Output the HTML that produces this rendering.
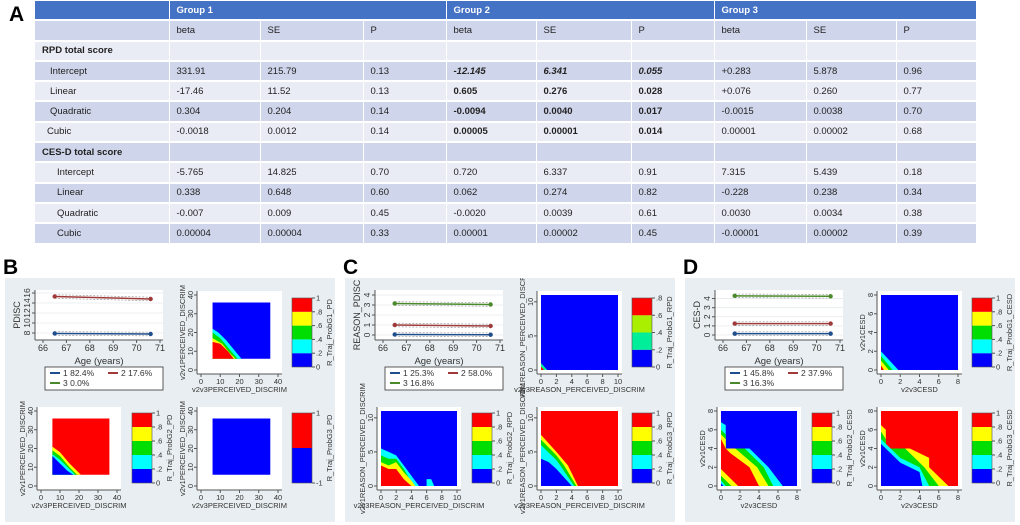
<!DOCTYPE html>
<html><head><meta charset="utf-8">
<style>
body{margin:0;width:1020px;height:525px;background:#fff;position:relative;overflow:hidden;font-family:"Liberation Sans",sans-serif}
.lab{position:absolute;font-weight:bold;font-size:21px;color:#000}
table{position:absolute;left:35px;top:1px;border-collapse:collapse;table-layout:fixed;font-size:9.5px;color:#222}
td{height:18.3px;padding:0 0 0 7px;border:1px solid #fff;border-width:0 1px 2px 0;white-space:nowrap}
tr.h td{background:#4472c4;color:#fff;font-weight:bold}
tr.d td{background:#cfd5ea}
tr.l td{background:#e9ebf5}
.b{font-weight:bold}.bi{font-weight:bold;font-style:italic}
svg{position:absolute}
</style></head><body>
<div class="lab" style="left:9px;top:3px">A</div>
<table>
<colgroup><col style="width:134px"><col style="width:91px"><col style="width:103px"><col style="width:83px"><col style="width:90px"><col style="width:95px"><col style="width:83px"><col style="width:92px"><col style="width:90px"><col style="width:80px"></colgroup>
<tr class="h"><td></td><td colspan="3">Group 1</td><td colspan="3">Group 2</td><td colspan="3">Group 3</td></tr>
<tr class="d"><td></td><td>beta</td><td>SE</td><td>P</td><td>beta</td><td>SE</td><td>P</td><td>beta</td><td>SE</td><td>P</td></tr>
<tr class="l"><td class="b">RPD total score</td><td></td><td></td><td></td><td></td><td></td><td></td><td></td><td></td><td></td></tr>
<tr class="d"><td style="padding-left:15px">Intercept</td><td>331.91</td><td>215.79</td><td>0.13</td><td class="bi">-12.145</td><td class="bi">6.341</td><td class="bi">0.055</td><td>+0.283</td><td>5.878</td><td>0.96</td></tr>
<tr class="l"><td style="padding-left:15px">Linear</td><td>-17.46</td><td>11.52</td><td>0.13</td><td class="b">0.605</td><td class="b">0.276</td><td class="b">0.028</td><td>+0.076</td><td>0.260</td><td>0.77</td></tr>
<tr class="d"><td style="padding-left:15px">Quadratic</td><td>0.304</td><td>0.204</td><td>0.14</td><td class="b">-0.0094</td><td class="b">0.0040</td><td class="b">0.017</td><td>-0.0015</td><td>0.0038</td><td>0.70</td></tr>
<tr class="l"><td style="padding-left:12px">Cubic</td><td>-0.0018</td><td>0.0012</td><td>0.14</td><td class="b">0.00005</td><td class="b">0.00001</td><td class="b">0.014</td><td>0.00001</td><td>0.00002</td><td>0.68</td></tr>
<tr class="d"><td class="b">CES-D total score</td><td></td><td></td><td></td><td></td><td></td><td></td><td></td><td></td><td></td></tr>
<tr class="l"><td style="padding-left:22px">Intercept</td><td>-5.765</td><td>14.825</td><td>0.70</td><td>0.720</td><td>6.337</td><td>0.91</td><td>7.315</td><td>5.439</td><td>0.18</td></tr>
<tr class="d"><td style="padding-left:22px">Linear</td><td>0.338</td><td>0.648</td><td>0.60</td><td>0.062</td><td>0.274</td><td>0.82</td><td>-0.228</td><td>0.238</td><td>0.34</td></tr>
<tr class="l"><td style="padding-left:22px">Quadratic</td><td>-0.007</td><td>0.009</td><td>0.45</td><td>-0.0020</td><td>0.0039</td><td>0.61</td><td>0.0030</td><td>0.0034</td><td>0.38</td></tr>
<tr class="d"><td style="padding-left:22px">Cubic</td><td>0.00004</td><td>0.00004</td><td>0.33</td><td>0.00001</td><td>0.00002</td><td>0.45</td><td>-0.00001</td><td>0.00002</td><td>0.39</td></tr>
</table>
<div class="lab" style="left:3px;top:256px">B</div>
<div class="lab" style="left:343px;top:256px">C</div>
<div class="lab" style="left:683px;top:256px">D</div>
<script>
// ===== data =====
const ageTicks=[66,67,68,69,70,71];
const ageEnds=[66.5,70.6];
const bYTicks=[8,10,12,14,16];
const bLine1=[7.9,7.8], bLine2=[15.3,14.8];
const cYTicks=[0,1,2,3,4];
const cLine1=[0.05,0.03], cLine2=[1.0,0.9], cLine3=[3.15,3.05];
const dYTicks=[0,1,2,3,4];
const dLine1=[0.15,0.15], dLine2=[1.25,1.25], dLine3=[4.3,4.25];
const bLegend=["1  82.4%","2  17.6%","3  0.0%"];
const cLegend=["1  25.3%","2  58.0%","3  16.8%"];
const dLegend=["1  45.8%","2  37.9%","3  16.3%"];
const cbTickLabels=["0",".2",".4",".6",".8","1"];
const Y='#ffff00',G='#00dd00',C='#00ffff';
const bTR=[['#0000ff',[[6,6],[6,36],[36,36],[36,6]]],[C,[[6,6],[6,22],[9,20],[13,16],[17,11],[21,6]]],[G,[[6,6],[6,20],[10,17],[14,12],[19,6]]],[Y,[[6,6],[6,17],[11,14],[15,9],[18,6]]],['#ff0000',[[6,6],[6,15],[10,14],[14,10],[17,6]]]];
const bBL=[['#ff0000',[[6,6],[6,36],[36,36],[36,6]]],[Y,[[6,6],[6,21],[10,18],[15,12],[21,6]]],[G,[[6,6],[6,19],[10,16],[15,10],[19,6]]],[C,[[6,6],[6,17],[10,14],[14,10],[18,6]]],['#0000ff',[[6,6],[6,16],[9,13],[14,8],[17,6]]]];
const bBR=[['#0000ff',[[6,6],[6,36],[36,36],[36,6]]]];
const cTR=[['#0000ff',[[0,0],[0,11],[10,11],[10,0]]],['#00ff99',[[0,0],[0,1],[0.8,0]]],['#ff0000',[[0,0],[0,0.5],[0.4,0]]]];
const cBL=[['#0000ff',[[0,0],[0,11],[10,11],[10,0]]],[C,[[0,0],[0,5.5],[1,5],[2,4.5],[3,3],[4,1.5],[5,0]]],[G,[[0,0],[0,4.5],[1,4],[2,4],[3,2.5],[4.3,0]]],[Y,[[0,0],[0,3.5],[1,3],[2,3.5],[3,2],[4,0.8],[4.5,0]]],['#ff0000',[[0,0],[0,3],[1,2.5],[2,2.5],[3,1],[4,0]]],[C,[[6,0],[6,1],[6.6,1],[7,0]]]];
const cBR=[['#ff0000',[[0,0],[0,11],[10,11],[10,0]]],[Y,[[0,0],[0,7.5],[2,5],[3.5,3],[4.8,0]]],[G,[[0,0],[0,6.8],[2,4.5],[3,3],[4.6,0]]],[C,[[0,0],[0,6],[2,3.8],[2.5,3],[4.3,0]]],['#0000ff',[[0,0],[0,4],[1,3.5],[2,2.5],[4,0]]]];
const dTR=[['#0000ff',[[0,0],[0,8],[8,8],[8,0]]],[C,[[0,0],[0,2],[1.8,0]]],[G,[[0,0],[0,1.5],[1.2,0]]],[Y,[[0,0],[0,1],[0.8,0]]],['#ff0000',[[0,0],[0,0.5],[0.3,0]]]];
const dBL=[['#0000ff',[[0,0],[0,8],[8,8],[8,0]]],[C,[[0,0],[0,6.8],[0.5,6.5],[0.5,4],[3,4],[5,2],[6.5,0]]],[G,[[0,0],[0,6],[0.5,5.5],[0.5,4],[2.5,4],[4.5,2],[5.5,0]]],[Y,[[0,0],[0,5.5],[0.5,5],[0.5,4],[1.5,4],[3.8,2],[5,0]]],['#ff0000',[[0,0],[0,5],[0.5,4],[1,3.5],[3,2],[4,0]]],[Y,[[0,0],[0,1.8],[1.8,0]]],[G,[[0,0],[0,1.1],[1.1,0]]],[C,[[0,0],[0,0.6],[0.5,0]]],['#0000ff',[[0,0],[0,0.3],[0.25,0]]]];
const dBR=[['#ff0000',[[0,0],[0,8],[8,8],[8,0]]],[Y,[[0,0],[0,6.5],[0.5,6],[0.5,4],[3,4],[5,3],[5,2],[7,0]]],[G,[[0,0],[0,5.8],[0.5,5],[0.5,4],[2.5,4],[4.5,2],[6,0]]],[C,[[0,0],[0,5],[2,3],[4,2],[5,0]]],['#0000ff',[[0,0],[0,4.5],[2,2.5],[4,1.5],[4.3,0]]]];

const NS='http://www.w3.org/2000/svg';
function el(p,t,a){const e=document.createElementNS(NS,t);for(const k in a)e.setAttribute(k,a[k]);p.appendChild(e);return e;}
function txt(p,x,y,s,sz,anchor,rot){const t=el(p,'text',{x:x,y:y,'font-size':sz,'text-anchor':anchor||'middle',fill:'#333','font-family':'Liberation Sans, sans-serif'});if(rot)t.setAttribute('transform','rotate(-90 '+x+' '+y+')');t.textContent=s;return t;}

function linePlot(svg,cfg){
  const g=el(svg,'g',{});
  
  
  const X0=30,X1=158,Yt=12,Yb=62;
  const xs=v=>38+(v-66)*23.4;
  const ys=v=>cfg.y0px-(v-cfg.yMin)*(cfg.y0px-cfg.yTopPx)/(cfg.yMax-cfg.yMin);
  el(g,'rect',{x:X0,y:Yt,width:X1-X0,height:Yb-Yt,fill:'#fff'});
  cfg.yTicks.forEach(v=>{el(g,'line',{x1:X0,x2:X1,y1:ys(v),y2:ys(v),stroke:'#e4eaee','stroke-width':0.8});
    el(g,'line',{x1:X0-3,x2:X0,y1:ys(v),y2:ys(v),stroke:'#555'});
    txt(g,X0-5,ys(v),String(v),8.5,'middle',true);});
  el(g,'line',{x1:X0,x2:X0,y1:Yt,y2:Yb,stroke:'#555'});
  el(g,'line',{x1:X0,x2:X1,y1:Yb,y2:Yb,stroke:'#555'});
  ageTicks.forEach(v=>{el(g,'line',{x1:xs(v),x2:xs(v),y1:Yb,y2:Yb+3,stroke:'#555'});txt(g,xs(v),Yb+11,String(v),9);});
  txt(g,(X0+X1)/2,Yb+24,'Age (years)',9.5);
  txt(g,X0-15,37,cfg.ylab,9,'middle',true);
  const cols=['#1f4e8c','#a03a3a','#4a8a2a'];
  cfg.lines.forEach((L,i)=>{if(!L)return;
    const p=ageEnds.map((a,j)=>[xs(a),ys(L[j])]);
    [-1,1].forEach(s=>{el(g,'line',{x1:p[0][0],y1:p[0][1]+s*1.8,x2:p[1][0],y2:p[1][1]+s*1.8,stroke:'#999','stroke-dasharray':'2,1.5','stroke-width':0.7});});
    const ln=el(g,'line',{x1:p[0][0],y1:p[0][1],x2:p[1][0],y2:p[1][1],stroke:cols[i],'stroke-width':1.5});
    
    
    p.forEach(q=>el(g,'circle',{cx:q[0],cy:q[1],r:2.2,fill:cols[i]}));
  });
  const lg=el(svg,'g',{});
  
  
  el(lg,'rect',{x:40,y:89,width:118,height:23,fill:'#fff',stroke:'#333','stroke-width':0.8});
  const pos=[[45,98],[103,98],[45,108]];
  cfg.legend.forEach((s,i)=>{el(lg,'line',{x1:pos[i][0],x2:pos[i][0]+10,y1:pos[i][1]-3,y2:pos[i][1]-3,stroke:cols[i],'stroke-width':2});txt(lg,pos[i][0]+13,pos[i][1],s,8.5,'start');});
}
function heat(svg,ax,layers,xr,yr,xt,yt,xlab,ylab,cbcolors,cbLabs,cblab,cbx,cby){
  const g=el(svg,'g',{});
  
  
  const xs=v=>ax.x0+(v-xr[0])/(xr[1]-xr[0])*(ax.x1-ax.x0);
  const ys=v=>ax.y0-(v-yr[0])/(yr[1]-yr[0])*(ax.y0-ax.y1);
  const pad=4;
  el(g,'rect',{x:ax.x0-pad,y:ax.y1-pad,width:ax.x1-ax.x0+2*pad,height:ax.y0-ax.y1+2*pad,fill:'#fff'});
  layers.forEach(L=>{el(g,'polygon',{points:L[1].map(q=>xs(q[0])+','+ys(q[1])).join(' '),fill:L[0]});});
  const ax0=ax.x0-pad,ay0=ax.y0+pad;
  el(g,'line',{x1:ax0,x2:ax0,y1:ax.y1-pad,y2:ay0,stroke:'#555'});
  el(g,'line',{x1:ax0,x2:ax.x1+pad,y1:ay0,y2:ay0,stroke:'#555'});
  xt.forEach(v=>{el(g,'line',{x1:xs(v),x2:xs(v),y1:ay0,y2:ay0+3,stroke:'#555'});txt(g,xs(v),ay0+10,String(v),7.5);});
  yt.forEach(v=>{el(g,'line',{x1:ax0-3,x2:ax0,y1:ys(v),y2:ys(v),stroke:'#555'});txt(g,ax0-4,ys(v),String(v),7.5,'middle',true);});
  txt(g,(ax.x0+ax.x1)/2,ay0+18,xlab,7.5);
  txt(g,ax0-12,(ax.y0+ax.y1)/2,ylab,7.5,'middle',true);
  const cb=el(svg,'g',{});
  
  
  const n=cbcolors.length,h=(cby[1]-cby[0])/n;
  cbcolors.forEach((c,i)=>el(cb,'rect',{x:cbx,y:cby[1]-(i+1)*h,width:20,height:h,fill:c}));
  el(cb,'rect',{x:cbx,y:cby[0],width:20,height:cby[1]-cby[0],fill:'none',stroke:'#555','stroke-width':0.6});
  cbLabs.forEach((s,i)=>{const y=cby[1]-i*(cby[1]-cby[0])/(cbLabs.length-1);el(cb,'line',{x1:cbx+20,x2:cbx+23,y1:y,y2:y,stroke:'#555'});txt(cb,cbx+24,y+2.5,s,7.5,'start');});
  txt(cb,cbx+40,(cby[0]+cby[1])/2,cblab,7.5,'middle',true);
}
function panel(left,name,cfg){
  const svg=el(document.body,'svg',{width:330,height:244,viewBox:'0 0 330 244'});
  svg.style.left=left+'px';svg.style.top='278px';
  
  
  el(svg,'rect',{x:0,y:0,width:330,height:244,fill:'#e8eef1'});
  linePlot(svg,cfg.line);
  cfg.heats.forEach(h=>heat(svg,...h));
}
const five=['#0000ff','#00ffff','#00dd00','#ffff00','#ff0000'];
const TR={x0:196,x1:273,y0:92,y1:17},BL={x0:36,x1:112,y0:208,y1:133},BR={x0:196,x1:273,y0:208,y1:133};
panel(5,'panel-b',{line:{yTicks:bYTicks,yMin:8,yMax:16,y0px:55,yTopPx:15,ylab:'PDISC',lines:[bLine1,bLine2,null],legend:bLegend},
 heats:[[TR,bTR,[0,40],[0,40],[0,10,20,30,40],[0,10,20,30,40],'v2v3PERCEIVED_DISCRIM','v2v1PERCEIVED_DISCRIM',five,cbTickLabels,'R_Traj_ProbG1_PD',287,[20,89]],
        [BL,bBL,[0,40],[0,40],[0,10,20,30,40],[0,10,20,30,40],'v2v3PERCEIVED_DISCRIM','v2v1PERCEIVED_DISCRIM',five,cbTickLabels,'R_Traj_ProbG2_PD',127,[135,205]],
        [BR,bBR,[0,40],[0,40],[0,10,20,30,40],[0,10,20,30,40],'v2v3PERCEIVED_DISCRIM','v2v1PERCEIVED_DISCRIM',['#0000ff','#ff0000'],['-1','1'],'R_Traj_ProbG3_PD',287,[135,205]]]});
panel(345,'panel-c',{line:{yTicks:cYTicks,yMin:0,yMax:4,y0px:57,yTopPx:17,ylab:'REASON_PDISC',lines:[cLine1,cLine2,cLine3],legend:cLegend},
 heats:[[TR,cTR,[0,10],[0,11],[0,2,4,6,8,10],[0,5,10],'v2v3REASON_PERCEIVED_DISCRIM','v2v1REASON_PERCEIVED_DISCRIM',['#0000ff','#00ee99','#aaee00','#ff0000'],['0','.2','.4','.6','.8'],'R_Traj_ProbG1_RPD',287,[20,89]],
        [BL,cBL,[0,10],[0,11],[0,2,4,6,8,10],[0,5,10],'v2v3REASON_PERCEIVED_DISCRIM','v2v1REASON_PERCEIVED_DISCRIM',five,cbTickLabels,'R_Traj_ProbG2_RPD',127,[135,205]],
        [BR,cBR,[0,10],[0,11],[0,2,4,6,8,10],[0,5,10],'v2v3REASON_PERCEIVED_DISCRIM','v2v1REASON_PERCEIVED_DISCRIM',five,cbTickLabels,'R_Traj_ProbG3_RPD',287,[135,205]]]});
panel(685,'panel-d',{line:{yTicks:dYTicks,yMin:0,yMax:4.5,y0px:57,yTopPx:16,ylab:'CES-D',lines:[dLine1,dLine2,dLine3],legend:dLegend},
 heats:[[TR,dTR,[0,8],[0,8],[0,2,4,6,8],[0,2,4,6,8],'v2v3CESD','v2v1CESD',five,cbTickLabels,'R_Traj_ProbG1_CESD',287,[20,89]],
        [BL,dBL,[0,8],[0,8],[0,2,4,6,8],[0,2,4,6,8],'v2v3CESD','v2v1CESD',five,cbTickLabels,'R_Traj_ProbG2_CESD',127,[135,205]],
        [BR,dBR,[0,8],[0,8],[0,2,4,6,8],[0,2,4,6,8],'v2v3CESD','v2v1CESD',five,cbTickLabels,'R_Traj_ProbG3_CESD',287,[135,205]]]});
</script>
</body></html>
